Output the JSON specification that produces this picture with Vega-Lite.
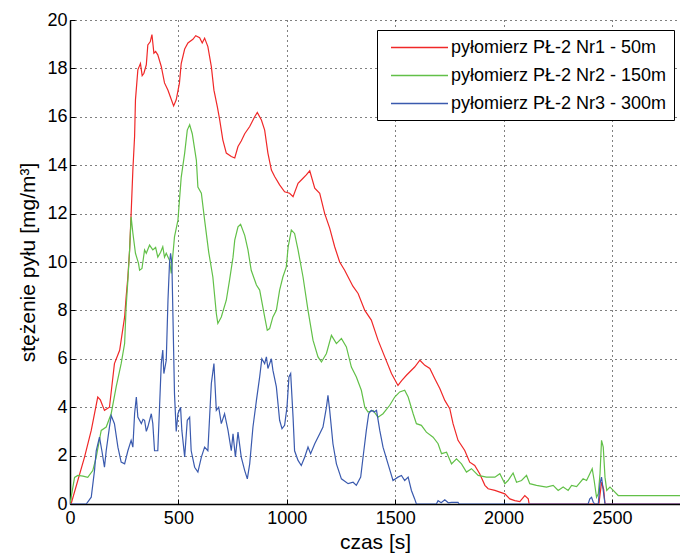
{
  "$schema": "https://vega.github.io/schema/vega-lite/v6.json",
  "width": 610,
  "height": 484,
  "autosize": {"type": "none"},
  "padding": {"left": 70, "top": 20, "right": 0, "bottom": 55},
  "background": "white",
  "config": {
    "view": {"stroke": null},
    "axis": {
      "gridColor": "#000000",
      "gridDash": [1, 4],
      "gridOpacity": 1,
      "gridWidth": 1,
      "domainColor": "#000000",
      "domainWidth": 1.5,
      "tickColor": "#000000",
      "tickSize": -5,
      "tickWidth": 1,
      "labelColor": "#000000",
      "labelFont": "Liberation Sans",
      "labelFontSize": 18,
      "titleColor": "#000000",
      "titleFont": "Liberation Sans",
      "titleFontSize": 21,
      "titleFontWeight": "normal"
    }
  },
  "data": {"values": []},
  "datasets": {
    "pts": [
      {"s":"pyłomierz PŁ-2 Nr1 - 50m","t":0,"v":0},{"s":"pyłomierz PŁ-2 Nr1 - 50m","t":5,"v":0},{"s":"pyłomierz PŁ-2 Nr1 - 50m","t":67,"v":1.94},{"s":"pyłomierz PŁ-2 Nr1 - 50m","t":98,"v":3.04},{"s":"pyłomierz PŁ-2 Nr1 - 50m","t":128,"v":4.42},{"s":"pyłomierz PŁ-2 Nr1 - 50m","t":140,"v":4.3},{"s":"pyłomierz PŁ-2 Nr1 - 50m","t":159,"v":3.87},{"s":"pyłomierz PŁ-2 Nr1 - 50m","t":182,"v":4.0},{"s":"pyłomierz PŁ-2 Nr1 - 50m","t":205,"v":5.8},{"s":"pyłomierz PŁ-2 Nr1 - 50m","t":229,"v":6.35},{"s":"pyłomierz PŁ-2 Nr1 - 50m","t":252,"v":7.73},{"s":"pyłomierz PŁ-2 Nr1 - 50m","t":259,"v":8.56},{"s":"pyłomierz PŁ-2 Nr1 - 50m","t":267,"v":9.38},{"s":"pyłomierz PŁ-2 Nr1 - 50m","t":275,"v":10.5},{"s":"pyłomierz PŁ-2 Nr1 - 50m","t":282,"v":12.0},{"s":"pyłomierz PŁ-2 Nr1 - 50m","t":290,"v":13.8},{"s":"pyłomierz PŁ-2 Nr1 - 50m","t":298,"v":15.2},{"s":"pyłomierz PŁ-2 Nr1 - 50m","t":302,"v":16.7},{"s":"pyłomierz PŁ-2 Nr1 - 50m","t":313,"v":17.94},{"s":"pyłomierz PŁ-2 Nr1 - 50m","t":325,"v":18.2},{"s":"pyłomierz PŁ-2 Nr1 - 50m","t":333,"v":17.7},{"s":"pyłomierz PŁ-2 Nr1 - 50m","t":341,"v":17.8},{"s":"pyłomierz PŁ-2 Nr1 - 50m","t":352,"v":18.15},{"s":"pyłomierz PŁ-2 Nr1 - 50m","t":359,"v":18.97},{"s":"pyłomierz PŁ-2 Nr1 - 50m","t":370,"v":19.1},{"s":"pyłomierz PŁ-2 Nr1 - 50m","t":378,"v":19.4},{"s":"pyłomierz PŁ-2 Nr1 - 50m","t":387,"v":18.63},{"s":"pyłomierz PŁ-2 Nr1 - 50m","t":395,"v":18.7},{"s":"pyłomierz PŁ-2 Nr1 - 50m","t":405,"v":18.56},{"s":"pyłomierz PŁ-2 Nr1 - 50m","t":421,"v":18.08},{"s":"pyłomierz PŁ-2 Nr1 - 50m","t":436,"v":17.4},{"s":"pyłomierz PŁ-2 Nr1 - 50m","t":452,"v":17.1},{"s":"pyłomierz PŁ-2 Nr1 - 50m","t":464,"v":16.8},{"s":"pyłomierz PŁ-2 Nr1 - 50m","t":478,"v":16.45},{"s":"pyłomierz PŁ-2 Nr1 - 50m","t":490,"v":16.7},{"s":"pyłomierz PŁ-2 Nr1 - 50m","t":505,"v":17.4},{"s":"pyłomierz PŁ-2 Nr1 - 50m","t":513,"v":18.2},{"s":"pyłomierz PŁ-2 Nr1 - 50m","t":529,"v":18.8},{"s":"pyłomierz PŁ-2 Nr1 - 50m","t":544,"v":19.05},{"s":"pyłomierz PŁ-2 Nr1 - 50m","t":567,"v":19.2},{"s":"pyłomierz PŁ-2 Nr1 - 50m","t":580,"v":19.35},{"s":"pyłomierz PŁ-2 Nr1 - 50m","t":598,"v":19.27},{"s":"pyłomierz PŁ-2 Nr1 - 50m","t":610,"v":19.05},{"s":"pyłomierz PŁ-2 Nr1 - 50m","t":621,"v":19.25},{"s":"pyłomierz PŁ-2 Nr1 - 50m","t":636,"v":18.9},{"s":"pyłomierz PŁ-2 Nr1 - 50m","t":652,"v":18.07},{"s":"pyłomierz PŁ-2 Nr1 - 50m","t":664,"v":17.1},{"s":"pyłomierz PŁ-2 Nr1 - 50m","t":680,"v":16.4},{"s":"pyłomierz PŁ-2 Nr1 - 50m","t":690,"v":15.9},{"s":"pyłomierz PŁ-2 Nr1 - 50m","t":705,"v":15.05},{"s":"pyłomierz PŁ-2 Nr1 - 50m","t":721,"v":14.5},{"s":"pyłomierz PŁ-2 Nr1 - 50m","t":744,"v":14.36},{"s":"pyłomierz PŁ-2 Nr1 - 50m","t":760,"v":14.3},{"s":"pyłomierz PŁ-2 Nr1 - 50m","t":775,"v":14.77},{"s":"pyłomierz PŁ-2 Nr1 - 50m","t":790,"v":15.0},{"s":"pyłomierz PŁ-2 Nr1 - 50m","t":806,"v":15.3},{"s":"pyłomierz PŁ-2 Nr1 - 50m","t":829,"v":15.6},{"s":"pyłomierz PŁ-2 Nr1 - 50m","t":852,"v":16.0},{"s":"pyłomierz PŁ-2 Nr1 - 50m","t":864,"v":16.18},{"s":"pyłomierz PŁ-2 Nr1 - 50m","t":883,"v":15.87},{"s":"pyłomierz PŁ-2 Nr1 - 50m","t":898,"v":15.45},{"s":"pyłomierz PŁ-2 Nr1 - 50m","t":913,"v":14.5},{"s":"pyłomierz PŁ-2 Nr1 - 50m","t":929,"v":13.8},{"s":"pyłomierz PŁ-2 Nr1 - 50m","t":944,"v":13.53},{"s":"pyłomierz PŁ-2 Nr1 - 50m","t":967,"v":13.19},{"s":"pyłomierz PŁ-2 Nr1 - 50m","t":990,"v":12.9},{"s":"pyłomierz PŁ-2 Nr1 - 50m","t":1013,"v":12.84},{"s":"pyłomierz PŁ-2 Nr1 - 50m","t":1029,"v":12.7},{"s":"pyłomierz PŁ-2 Nr1 - 50m","t":1052,"v":13.25},{"s":"pyłomierz PŁ-2 Nr1 - 50m","t":1075,"v":13.46},{"s":"pyłomierz PŁ-2 Nr1 - 50m","t":1090,"v":13.6},{"s":"pyłomierz PŁ-2 Nr1 - 50m","t":1106,"v":13.77},{"s":"pyłomierz PŁ-2 Nr1 - 50m","t":1129,"v":13.05},{"s":"pyłomierz PŁ-2 Nr1 - 50m","t":1152,"v":12.84},{"s":"pyłomierz PŁ-2 Nr1 - 50m","t":1175,"v":12.0},{"s":"pyłomierz PŁ-2 Nr1 - 50m","t":1198,"v":11.4},{"s":"pyłomierz PŁ-2 Nr1 - 50m","t":1221,"v":10.63},{"s":"pyłomierz PŁ-2 Nr1 - 50m","t":1244,"v":10.0},{"s":"pyłomierz PŁ-2 Nr1 - 50m","t":1267,"v":9.66},{"s":"pyłomierz PŁ-2 Nr1 - 50m","t":1283,"v":9.38},{"s":"pyłomierz PŁ-2 Nr1 - 50m","t":1305,"v":9.0},{"s":"pyłomierz PŁ-2 Nr1 - 50m","t":1329,"v":8.7},{"s":"pyłomierz PŁ-2 Nr1 - 50m","t":1360,"v":8.0},{"s":"pyłomierz PŁ-2 Nr1 - 50m","t":1390,"v":7.6},{"s":"pyłomierz PŁ-2 Nr1 - 50m","t":1421,"v":6.77},{"s":"pyłomierz PŁ-2 Nr1 - 50m","t":1452,"v":6.08},{"s":"pyłomierz PŁ-2 Nr1 - 50m","t":1483,"v":5.39},{"s":"pyłomierz PŁ-2 Nr1 - 50m","t":1513,"v":4.9},{"s":"pyłomierz PŁ-2 Nr1 - 50m","t":1530,"v":5.1},{"s":"pyłomierz PŁ-2 Nr1 - 50m","t":1552,"v":5.32},{"s":"pyłomierz PŁ-2 Nr1 - 50m","t":1590,"v":5.66},{"s":"pyłomierz PŁ-2 Nr1 - 50m","t":1614,"v":5.94},{"s":"pyłomierz PŁ-2 Nr1 - 50m","t":1637,"v":5.73},{"s":"pyłomierz PŁ-2 Nr1 - 50m","t":1660,"v":5.6},{"s":"pyłomierz PŁ-2 Nr1 - 50m","t":1683,"v":5.18},{"s":"pyłomierz PŁ-2 Nr1 - 50m","t":1706,"v":4.77},{"s":"pyłomierz PŁ-2 Nr1 - 50m","t":1729,"v":4.28},{"s":"pyłomierz PŁ-2 Nr1 - 50m","t":1752,"v":3.94},{"s":"pyłomierz PŁ-2 Nr1 - 50m","t":1767,"v":3.32},{"s":"pyłomierz PŁ-2 Nr1 - 50m","t":1790,"v":2.63},{"s":"pyłomierz PŁ-2 Nr1 - 50m","t":1821,"v":2.21},{"s":"pyłomierz PŁ-2 Nr1 - 50m","t":1844,"v":1.73},{"s":"pyłomierz PŁ-2 Nr1 - 50m","t":1867,"v":1.59},{"s":"pyłomierz PŁ-2 Nr1 - 50m","t":1890,"v":1.25},{"s":"pyłomierz PŁ-2 Nr1 - 50m","t":1914,"v":0.77},{"s":"pyłomierz PŁ-2 Nr1 - 50m","t":1929,"v":0.63},{"s":"pyłomierz PŁ-2 Nr1 - 50m","t":1960,"v":0.56},{"s":"pyłomierz PŁ-2 Nr1 - 50m","t":1983,"v":0.49},{"s":"pyłomierz PŁ-2 Nr1 - 50m","t":2006,"v":0.42},{"s":"pyłomierz PŁ-2 Nr1 - 50m","t":2029,"v":0.21},{"s":"pyłomierz PŁ-2 Nr1 - 50m","t":2052,"v":0.14},{"s":"pyłomierz PŁ-2 Nr1 - 50m","t":2075,"v":0.1},{"s":"pyłomierz PŁ-2 Nr1 - 50m","t":2098,"v":0.35},{"s":"pyłomierz PŁ-2 Nr1 - 50m","t":2114,"v":0.21},{"s":"pyłomierz PŁ-2 Nr1 - 50m","t":2118,"v":0},{"s":"pyłomierz PŁ-2 Nr1 - 50m","t":2440,"v":0},{"s":"pyłomierz PŁ-2 Nr1 - 50m","t":2452,"v":0.9},{"s":"pyłomierz PŁ-2 Nr1 - 50m","t":2462,"v":0.6},{"s":"pyłomierz PŁ-2 Nr1 - 50m","t":2468,"v":0},{"s":"pyłomierz PŁ-2 Nr1 - 50m","t":2814,"v":0},

      {"s":"pyłomierz PŁ-2 Nr2 - 150m","t":0,"v":0},{"s":"pyłomierz PŁ-2 Nr2 - 150m","t":21,"v":1.1},{"s":"pyłomierz PŁ-2 Nr2 - 150m","t":36,"v":1.18},{"s":"pyłomierz PŁ-2 Nr2 - 150m","t":60,"v":1.15},{"s":"pyłomierz PŁ-2 Nr2 - 150m","t":82,"v":1.1},{"s":"pyłomierz PŁ-2 Nr2 - 150m","t":105,"v":1.38},{"s":"pyłomierz PŁ-2 Nr2 - 150m","t":121,"v":1.94},{"s":"pyłomierz PŁ-2 Nr2 - 150m","t":144,"v":3.04},{"s":"pyłomierz PŁ-2 Nr2 - 150m","t":167,"v":3.18},{"s":"pyłomierz PŁ-2 Nr2 - 150m","t":190,"v":3.73},{"s":"pyłomierz PŁ-2 Nr2 - 150m","t":213,"v":4.84},{"s":"pyłomierz PŁ-2 Nr2 - 150m","t":236,"v":5.8},{"s":"pyłomierz PŁ-2 Nr2 - 150m","t":252,"v":6.63},{"s":"pyłomierz PŁ-2 Nr2 - 150m","t":259,"v":8.15},{"s":"pyłomierz PŁ-2 Nr2 - 150m","t":267,"v":9.25},{"s":"pyłomierz PŁ-2 Nr2 - 150m","t":275,"v":10.5},{"s":"pyłomierz PŁ-2 Nr2 - 150m","t":282,"v":11.87},{"s":"pyłomierz PŁ-2 Nr2 - 150m","t":290,"v":11.2},{"s":"pyłomierz PŁ-2 Nr2 - 150m","t":302,"v":10.36},{"s":"pyłomierz PŁ-2 Nr2 - 150m","t":316,"v":9.94},{"s":"pyłomierz PŁ-2 Nr2 - 150m","t":321,"v":9.66},{"s":"pyłomierz PŁ-2 Nr2 - 150m","t":332,"v":9.73},{"s":"pyłomierz PŁ-2 Nr2 - 150m","t":344,"v":10.5},{"s":"pyłomierz PŁ-2 Nr2 - 150m","t":352,"v":10.36},{"s":"pyłomierz PŁ-2 Nr2 - 150m","t":367,"v":10.7},{"s":"pyłomierz PŁ-2 Nr2 - 150m","t":382,"v":10.5},{"s":"pyłomierz PŁ-2 Nr2 - 150m","t":395,"v":10.6},{"s":"pyłomierz PŁ-2 Nr2 - 150m","t":405,"v":10.2},{"s":"pyłomierz PŁ-2 Nr2 - 150m","t":418,"v":10.4},{"s":"pyłomierz PŁ-2 Nr2 - 150m","t":428,"v":10.63},{"s":"pyłomierz PŁ-2 Nr2 - 150m","t":436,"v":10.2},{"s":"pyłomierz PŁ-2 Nr2 - 150m","t":444,"v":10.36},{"s":"pyłomierz PŁ-2 Nr2 - 150m","t":459,"v":10.07},{"s":"pyłomierz PŁ-2 Nr2 - 150m","t":467,"v":9.53},{"s":"pyłomierz PŁ-2 Nr2 - 150m","t":482,"v":11.04},{"s":"pyłomierz PŁ-2 Nr2 - 150m","t":498,"v":11.73},{"s":"pyłomierz PŁ-2 Nr2 - 150m","t":513,"v":13.5},{"s":"pyłomierz PŁ-2 Nr2 - 150m","t":529,"v":14.5},{"s":"pyłomierz PŁ-2 Nr2 - 150m","t":541,"v":15.45},{"s":"pyłomierz PŁ-2 Nr2 - 150m","t":552,"v":15.67},{"s":"pyłomierz PŁ-2 Nr2 - 150m","t":564,"v":15.3},{"s":"pyłomierz PŁ-2 Nr2 - 150m","t":583,"v":14.2},{"s":"pyłomierz PŁ-2 Nr2 - 150m","t":590,"v":13.1},{"s":"pyłomierz PŁ-2 Nr2 - 150m","t":606,"v":12.84},{"s":"pyłomierz PŁ-2 Nr2 - 150m","t":621,"v":11.73},{"s":"pyłomierz PŁ-2 Nr2 - 150m","t":640,"v":10.4},{"s":"pyłomierz PŁ-2 Nr2 - 150m","t":659,"v":9.38},{"s":"pyłomierz PŁ-2 Nr2 - 150m","t":675,"v":7.87},{"s":"pyłomierz PŁ-2 Nr2 - 150m","t":682,"v":7.46},{"s":"pyłomierz PŁ-2 Nr2 - 150m","t":698,"v":7.73},{"s":"pyłomierz PŁ-2 Nr2 - 150m","t":721,"v":8.42},{"s":"pyłomierz PŁ-2 Nr2 - 150m","t":736,"v":9.25},{"s":"pyłomierz PŁ-2 Nr2 - 150m","t":752,"v":10.2},{"s":"pyłomierz PŁ-2 Nr2 - 150m","t":760,"v":10.9},{"s":"pyłomierz PŁ-2 Nr2 - 150m","t":775,"v":11.45},{"s":"pyłomierz PŁ-2 Nr2 - 150m","t":787,"v":11.56},{"s":"pyłomierz PŁ-2 Nr2 - 150m","t":806,"v":11.1},{"s":"pyłomierz PŁ-2 Nr2 - 150m","t":821,"v":10.5},{"s":"pyłomierz PŁ-2 Nr2 - 150m","t":836,"v":9.66},{"s":"pyłomierz PŁ-2 Nr2 - 150m","t":860,"v":9.05},{"s":"pyłomierz PŁ-2 Nr2 - 150m","t":875,"v":8.84},{"s":"pyłomierz PŁ-2 Nr2 - 150m","t":898,"v":7.73},{"s":"pyłomierz PŁ-2 Nr2 - 150m","t":910,"v":7.18},{"s":"pyłomierz PŁ-2 Nr2 - 150m","t":921,"v":7.25},{"s":"pyłomierz PŁ-2 Nr2 - 150m","t":936,"v":7.73},{"s":"pyłomierz PŁ-2 Nr2 - 150m","t":952,"v":8.0},{"s":"pyłomierz PŁ-2 Nr2 - 150m","t":967,"v":8.84},{"s":"pyłomierz PŁ-2 Nr2 - 150m","t":982,"v":9.38},{"s":"pyłomierz PŁ-2 Nr2 - 150m","t":998,"v":9.8},{"s":"pyłomierz PŁ-2 Nr2 - 150m","t":1006,"v":10.6},{"s":"pyłomierz PŁ-2 Nr2 - 150m","t":1021,"v":11.32},{"s":"pyłomierz PŁ-2 Nr2 - 150m","t":1036,"v":11.18},{"s":"pyłomierz PŁ-2 Nr2 - 150m","t":1052,"v":10.5},{"s":"pyłomierz PŁ-2 Nr2 - 150m","t":1075,"v":9.38},{"s":"pyłomierz PŁ-2 Nr2 - 150m","t":1098,"v":8.0},{"s":"pyłomierz PŁ-2 Nr2 - 150m","t":1121,"v":6.77},{"s":"pyłomierz PŁ-2 Nr2 - 150m","t":1144,"v":6.08},{"s":"pyłomierz PŁ-2 Nr2 - 150m","t":1160,"v":5.87},{"s":"pyłomierz PŁ-2 Nr2 - 150m","t":1183,"v":6.22},{"s":"pyłomierz PŁ-2 Nr2 - 150m","t":1206,"v":6.97},{"s":"pyłomierz PŁ-2 Nr2 - 150m","t":1229,"v":6.63},{"s":"pyłomierz PŁ-2 Nr2 - 150m","t":1252,"v":6.84},{"s":"pyłomierz PŁ-2 Nr2 - 150m","t":1275,"v":6.49},{"s":"pyłomierz PŁ-2 Nr2 - 150m","t":1298,"v":5.66},{"s":"pyłomierz PŁ-2 Nr2 - 150m","t":1321,"v":5.25},{"s":"pyłomierz PŁ-2 Nr2 - 150m","t":1344,"v":4.7},{"s":"pyłomierz PŁ-2 Nr2 - 150m","t":1360,"v":4.0},{"s":"pyłomierz PŁ-2 Nr2 - 150m","t":1375,"v":3.8},{"s":"pyłomierz PŁ-2 Nr2 - 150m","t":1398,"v":3.87},{"s":"pyłomierz PŁ-2 Nr2 - 150m","t":1421,"v":3.59},{"s":"pyłomierz PŁ-2 Nr2 - 150m","t":1444,"v":3.73},{"s":"pyłomierz PŁ-2 Nr2 - 150m","t":1475,"v":4.08},{"s":"pyłomierz PŁ-2 Nr2 - 150m","t":1498,"v":4.42},{"s":"pyłomierz PŁ-2 Nr2 - 150m","t":1521,"v":4.63},{"s":"pyłomierz PŁ-2 Nr2 - 150m","t":1544,"v":4.7},{"s":"pyłomierz PŁ-2 Nr2 - 150m","t":1560,"v":4.42},{"s":"pyłomierz PŁ-2 Nr2 - 150m","t":1583,"v":3.73},{"s":"pyłomierz PŁ-2 Nr2 - 150m","t":1598,"v":3.32},{"s":"pyłomierz PŁ-2 Nr2 - 150m","t":1621,"v":3.25},{"s":"pyłomierz PŁ-2 Nr2 - 150m","t":1644,"v":2.97},{"s":"pyłomierz PŁ-2 Nr2 - 150m","t":1675,"v":2.76},{"s":"pyłomierz PŁ-2 Nr2 - 150m","t":1698,"v":2.49},{"s":"pyłomierz PŁ-2 Nr2 - 150m","t":1714,"v":2.08},{"s":"pyłomierz PŁ-2 Nr2 - 150m","t":1737,"v":2.14},{"s":"pyłomierz PŁ-2 Nr2 - 150m","t":1760,"v":1.66},{"s":"pyłomierz PŁ-2 Nr2 - 150m","t":1783,"v":1.87},{"s":"pyłomierz PŁ-2 Nr2 - 150m","t":1806,"v":1.66},{"s":"pyłomierz PŁ-2 Nr2 - 150m","t":1829,"v":1.32},{"s":"pyłomierz PŁ-2 Nr2 - 150m","t":1852,"v":1.46},{"s":"pyłomierz PŁ-2 Nr2 - 150m","t":1883,"v":1.18},{"s":"pyłomierz PŁ-2 Nr2 - 150m","t":1921,"v":1.11},{"s":"pyłomierz PŁ-2 Nr2 - 150m","t":1960,"v":1.11},{"s":"pyłomierz PŁ-2 Nr2 - 150m","t":1983,"v":1.25},{"s":"pyłomierz PŁ-2 Nr2 - 150m","t":2006,"v":0.84},{"s":"pyłomierz PŁ-2 Nr2 - 150m","t":2021,"v":0.97},{"s":"pyłomierz PŁ-2 Nr2 - 150m","t":2044,"v":1.28},{"s":"pyłomierz PŁ-2 Nr2 - 150m","t":2060,"v":0.9},{"s":"pyłomierz PŁ-2 Nr2 - 150m","t":2083,"v":0.97},{"s":"pyłomierz PŁ-2 Nr2 - 150m","t":2106,"v":1.18},{"s":"pyłomierz PŁ-2 Nr2 - 150m","t":2121,"v":0.84},{"s":"pyłomierz PŁ-2 Nr2 - 150m","t":2152,"v":0.77},{"s":"pyłomierz PŁ-2 Nr2 - 150m","t":2198,"v":0.7},{"s":"pyłomierz PŁ-2 Nr2 - 150m","t":2229,"v":0.77},{"s":"pyłomierz PŁ-2 Nr2 - 150m","t":2252,"v":0.56},{"s":"pyłomierz PŁ-2 Nr2 - 150m","t":2275,"v":0.7},{"s":"pyłomierz PŁ-2 Nr2 - 150m","t":2298,"v":0.56},{"s":"pyłomierz PŁ-2 Nr2 - 150m","t":2314,"v":0.77},{"s":"pyłomierz PŁ-2 Nr2 - 150m","t":2337,"v":0.72},{"s":"pyłomierz PŁ-2 Nr2 - 150m","t":2367,"v":1.04},{"s":"pyłomierz PŁ-2 Nr2 - 150m","t":2383,"v":0.97},{"s":"pyłomierz PŁ-2 Nr2 - 150m","t":2398,"v":1.25},{"s":"pyłomierz PŁ-2 Nr2 - 150m","t":2409,"v":1.46},{"s":"pyłomierz PŁ-2 Nr2 - 150m","t":2418,"v":0.97},{"s":"pyłomierz PŁ-2 Nr2 - 150m","t":2429,"v":0.28},{"s":"pyłomierz PŁ-2 Nr2 - 150m","t":2437,"v":0.42},{"s":"pyłomierz PŁ-2 Nr2 - 150m","t":2445,"v":1.25},{"s":"pyłomierz PŁ-2 Nr2 - 150m","t":2452,"v":2.63},{"s":"pyłomierz PŁ-2 Nr2 - 150m","t":2460,"v":2.35},{"s":"pyłomierz PŁ-2 Nr2 - 150m","t":2468,"v":1.11},{"s":"pyłomierz PŁ-2 Nr2 - 150m","t":2476,"v":0.56},{"s":"pyłomierz PŁ-2 Nr2 - 150m","t":2491,"v":0.7},{"s":"pyłomierz PŁ-2 Nr2 - 150m","t":2506,"v":0.56},{"s":"pyłomierz PŁ-2 Nr2 - 150m","t":2529,"v":0.35},{"s":"pyłomierz PŁ-2 Nr2 - 150m","t":2814,"v":0.35},

      {"s":"pyłomierz PŁ-2 Nr3 - 300m","t":0,"v":0},{"s":"pyłomierz PŁ-2 Nr3 - 300m","t":75,"v":0},{"s":"pyłomierz PŁ-2 Nr3 - 300m","t":98,"v":0.28},{"s":"pyłomierz PŁ-2 Nr3 - 300m","t":113,"v":1.38},{"s":"pyłomierz PŁ-2 Nr3 - 300m","t":121,"v":2.2},{"s":"pyłomierz PŁ-2 Nr3 - 300m","t":136,"v":2.76},{"s":"pyłomierz PŁ-2 Nr3 - 300m","t":147,"v":2.2},{"s":"pyłomierz PŁ-2 Nr3 - 300m","t":159,"v":1.52},{"s":"pyłomierz PŁ-2 Nr3 - 300m","t":167,"v":2.2},{"s":"pyłomierz PŁ-2 Nr3 - 300m","t":182,"v":3.18},{"s":"pyłomierz PŁ-2 Nr3 - 300m","t":190,"v":3.66},{"s":"pyłomierz PŁ-2 Nr3 - 300m","t":205,"v":3.32},{"s":"pyłomierz PŁ-2 Nr3 - 300m","t":221,"v":2.35},{"s":"pyłomierz PŁ-2 Nr3 - 300m","t":236,"v":1.73},{"s":"pyłomierz PŁ-2 Nr3 - 300m","t":252,"v":1.66},{"s":"pyłomierz PŁ-2 Nr3 - 300m","t":267,"v":2.2},{"s":"pyłomierz PŁ-2 Nr3 - 300m","t":282,"v":2.63},{"s":"pyłomierz PŁ-2 Nr3 - 300m","t":290,"v":2.35},{"s":"pyłomierz PŁ-2 Nr3 - 300m","t":298,"v":3.73},{"s":"pyłomierz PŁ-2 Nr3 - 300m","t":306,"v":4.42},{"s":"pyłomierz PŁ-2 Nr3 - 300m","t":313,"v":3.59},{"s":"pyłomierz PŁ-2 Nr3 - 300m","t":329,"v":3.32},{"s":"pyłomierz PŁ-2 Nr3 - 300m","t":337,"v":3.5},{"s":"pyłomierz PŁ-2 Nr3 - 300m","t":344,"v":3.46},{"s":"pyłomierz PŁ-2 Nr3 - 300m","t":352,"v":3.0},{"s":"pyłomierz PŁ-2 Nr3 - 300m","t":359,"v":3.18},{"s":"pyłomierz PŁ-2 Nr3 - 300m","t":375,"v":3.73},{"s":"pyłomierz PŁ-2 Nr3 - 300m","t":382,"v":3.32},{"s":"pyłomierz PŁ-2 Nr3 - 300m","t":390,"v":2.2},{"s":"pyłomierz PŁ-2 Nr3 - 300m","t":405,"v":2.2},{"s":"pyłomierz PŁ-2 Nr3 - 300m","t":413,"v":4.0},{"s":"pyłomierz PŁ-2 Nr3 - 300m","t":421,"v":5.8},{"s":"pyłomierz PŁ-2 Nr3 - 300m","t":428,"v":6.36},{"s":"pyłomierz PŁ-2 Nr3 - 300m","t":433,"v":5.39},{"s":"pyłomierz PŁ-2 Nr3 - 300m","t":444,"v":5.94},{"s":"pyłomierz PŁ-2 Nr3 - 300m","t":452,"v":8.42},{"s":"pyłomierz PŁ-2 Nr3 - 300m","t":459,"v":9.94},{"s":"pyłomierz PŁ-2 Nr3 - 300m","t":464,"v":10.36},{"s":"pyłomierz PŁ-2 Nr3 - 300m","t":470,"v":9.94},{"s":"pyłomierz PŁ-2 Nr3 - 300m","t":475,"v":7.73},{"s":"pyłomierz PŁ-2 Nr3 - 300m","t":482,"v":4.56},{"s":"pyłomierz PŁ-2 Nr3 - 300m","t":490,"v":3.0},{"s":"pyłomierz PŁ-2 Nr3 - 300m","t":498,"v":3.73},{"s":"pyłomierz PŁ-2 Nr3 - 300m","t":510,"v":4.0},{"s":"pyłomierz PŁ-2 Nr3 - 300m","t":516,"v":3.04},{"s":"pyłomierz PŁ-2 Nr3 - 300m","t":529,"v":1.94},{"s":"pyłomierz PŁ-2 Nr3 - 300m","t":541,"v":3.46},{"s":"pyłomierz PŁ-2 Nr3 - 300m","t":552,"v":3.59},{"s":"pyłomierz PŁ-2 Nr3 - 300m","t":559,"v":2.2},{"s":"pyłomierz PŁ-2 Nr3 - 300m","t":575,"v":1.52},{"s":"pyłomierz PŁ-2 Nr3 - 300m","t":590,"v":1.32},{"s":"pyłomierz PŁ-2 Nr3 - 300m","t":606,"v":1.94},{"s":"pyłomierz PŁ-2 Nr3 - 300m","t":621,"v":2.35},{"s":"pyłomierz PŁ-2 Nr3 - 300m","t":636,"v":2.2},{"s":"pyłomierz PŁ-2 Nr3 - 300m","t":652,"v":4.98},{"s":"pyłomierz PŁ-2 Nr3 - 300m","t":664,"v":5.8},{"s":"pyłomierz PŁ-2 Nr3 - 300m","t":675,"v":3.87},{"s":"pyłomierz PŁ-2 Nr3 - 300m","t":686,"v":4.0},{"s":"pyłomierz PŁ-2 Nr3 - 300m","t":698,"v":3.32},{"s":"pyłomierz PŁ-2 Nr3 - 300m","t":713,"v":3.73},{"s":"pyłomierz PŁ-2 Nr3 - 300m","t":729,"v":3.04},{"s":"pyłomierz PŁ-2 Nr3 - 300m","t":744,"v":2.2},{"s":"pyłomierz PŁ-2 Nr3 - 300m","t":752,"v":2.9},{"s":"pyłomierz PŁ-2 Nr3 - 300m","t":763,"v":1.94},{"s":"pyłomierz PŁ-2 Nr3 - 300m","t":775,"v":2.97},{"s":"pyłomierz PŁ-2 Nr3 - 300m","t":790,"v":1.94},{"s":"pyłomierz PŁ-2 Nr3 - 300m","t":806,"v":1.38},{"s":"pyłomierz PŁ-2 Nr3 - 300m","t":818,"v":1.04},{"s":"pyłomierz PŁ-2 Nr3 - 300m","t":829,"v":1.66},{"s":"pyłomierz PŁ-2 Nr3 - 300m","t":844,"v":3.18},{"s":"pyłomierz PŁ-2 Nr3 - 300m","t":860,"v":4.28},{"s":"pyłomierz PŁ-2 Nr3 - 300m","t":875,"v":5.25},{"s":"pyłomierz PŁ-2 Nr3 - 300m","t":885,"v":6.0},{"s":"pyłomierz PŁ-2 Nr3 - 300m","t":898,"v":5.8},{"s":"pyłomierz PŁ-2 Nr3 - 300m","t":906,"v":6.08},{"s":"pyłomierz PŁ-2 Nr3 - 300m","t":913,"v":5.6},{"s":"pyłomierz PŁ-2 Nr3 - 300m","t":929,"v":6.0},{"s":"pyłomierz PŁ-2 Nr3 - 300m","t":936,"v":5.53},{"s":"pyłomierz PŁ-2 Nr3 - 300m","t":952,"v":4.84},{"s":"pyłomierz PŁ-2 Nr3 - 300m","t":967,"v":3.46},{"s":"pyłomierz PŁ-2 Nr3 - 300m","t":978,"v":3.11},{"s":"pyłomierz PŁ-2 Nr3 - 300m","t":990,"v":3.25},{"s":"pyłomierz PŁ-2 Nr3 - 300m","t":1001,"v":4.0},{"s":"pyłomierz PŁ-2 Nr3 - 300m","t":1010,"v":5.25},{"s":"pyłomierz PŁ-2 Nr3 - 300m","t":1018,"v":5.39},{"s":"pyłomierz PŁ-2 Nr3 - 300m","t":1029,"v":3.59},{"s":"pyłomierz PŁ-2 Nr3 - 300m","t":1036,"v":2.2},{"s":"pyłomierz PŁ-2 Nr3 - 300m","t":1052,"v":1.8},{"s":"pyłomierz PŁ-2 Nr3 - 300m","t":1067,"v":1.59},{"s":"pyłomierz PŁ-2 Nr3 - 300m","t":1083,"v":1.94},{"s":"pyłomierz PŁ-2 Nr3 - 300m","t":1098,"v":2.35},{"s":"pyłomierz PŁ-2 Nr3 - 300m","t":1110,"v":2.08},{"s":"pyłomierz PŁ-2 Nr3 - 300m","t":1129,"v":2.49},{"s":"pyłomierz PŁ-2 Nr3 - 300m","t":1152,"v":2.9},{"s":"pyłomierz PŁ-2 Nr3 - 300m","t":1167,"v":3.18},{"s":"pyłomierz PŁ-2 Nr3 - 300m","t":1183,"v":4.0},{"s":"pyłomierz PŁ-2 Nr3 - 300m","t":1190,"v":4.49},{"s":"pyłomierz PŁ-2 Nr3 - 300m","t":1198,"v":3.87},{"s":"pyłomierz PŁ-2 Nr3 - 300m","t":1213,"v":2.49},{"s":"pyłomierz PŁ-2 Nr3 - 300m","t":1229,"v":1.66},{"s":"pyłomierz PŁ-2 Nr3 - 300m","t":1252,"v":1.04},{"s":"pyłomierz PŁ-2 Nr3 - 300m","t":1283,"v":0.84},{"s":"pyłomierz PŁ-2 Nr3 - 300m","t":1306,"v":0.9},{"s":"pyłomierz PŁ-2 Nr3 - 300m","t":1321,"v":0.77},{"s":"pyłomierz PŁ-2 Nr3 - 300m","t":1341,"v":1.11},{"s":"pyłomierz PŁ-2 Nr3 - 300m","t":1352,"v":1.94},{"s":"pyłomierz PŁ-2 Nr3 - 300m","t":1367,"v":3.04},{"s":"pyłomierz PŁ-2 Nr3 - 300m","t":1378,"v":3.73},{"s":"pyłomierz PŁ-2 Nr3 - 300m","t":1390,"v":3.87},{"s":"pyłomierz PŁ-2 Nr3 - 300m","t":1403,"v":3.8},{"s":"pyłomierz PŁ-2 Nr3 - 300m","t":1414,"v":3.87},{"s":"pyłomierz PŁ-2 Nr3 - 300m","t":1429,"v":3.04},{"s":"pyłomierz PŁ-2 Nr3 - 300m","t":1444,"v":2.35},{"s":"pyłomierz PŁ-2 Nr3 - 300m","t":1467,"v":1.66},{"s":"pyłomierz PŁ-2 Nr3 - 300m","t":1490,"v":0.97},{"s":"pyłomierz PŁ-2 Nr3 - 300m","t":1513,"v":1.11},{"s":"pyłomierz PŁ-2 Nr3 - 300m","t":1529,"v":1.18},{"s":"pyłomierz PŁ-2 Nr3 - 300m","t":1544,"v":0.97},{"s":"pyłomierz PŁ-2 Nr3 - 300m","t":1560,"v":1.11},{"s":"pyłomierz PŁ-2 Nr3 - 300m","t":1575,"v":0.56},{"s":"pyłomierz PŁ-2 Nr3 - 300m","t":1590,"v":0.21},{"s":"pyłomierz PŁ-2 Nr3 - 300m","t":1598,"v":0},{"s":"pyłomierz PŁ-2 Nr3 - 300m","t":1690,"v":0},{"s":"pyłomierz PŁ-2 Nr3 - 300m","t":1698,"v":0.14},{"s":"pyłomierz PŁ-2 Nr3 - 300m","t":1712,"v":0.05},{"s":"pyłomierz PŁ-2 Nr3 - 300m","t":1729,"v":0.17},{"s":"pyłomierz PŁ-2 Nr3 - 300m","t":1745,"v":0.05},{"s":"pyłomierz PŁ-2 Nr3 - 300m","t":1760,"v":0.07},{"s":"pyłomierz PŁ-2 Nr3 - 300m","t":1790,"v":0.07},{"s":"pyłomierz PŁ-2 Nr3 - 300m","t":1795,"v":0},{"s":"pyłomierz PŁ-2 Nr3 - 300m","t":2390,"v":0},{"s":"pyłomierz PŁ-2 Nr3 - 300m","t":2398,"v":0.21},{"s":"pyłomierz PŁ-2 Nr3 - 300m","t":2406,"v":0.28},{"s":"pyłomierz PŁ-2 Nr3 - 300m","t":2414,"v":0.07},{"s":"pyłomierz PŁ-2 Nr3 - 300m","t":2421,"v":0},{"s":"pyłomierz PŁ-2 Nr3 - 300m","t":2437,"v":0},{"s":"pyłomierz PŁ-2 Nr3 - 300m","t":2445,"v":0.84},{"s":"pyłomierz PŁ-2 Nr3 - 300m","t":2452,"v":1.11},{"s":"pyłomierz PŁ-2 Nr3 - 300m","t":2460,"v":0.56},{"s":"pyłomierz PŁ-2 Nr3 - 300m","t":2468,"v":0},{"s":"pyłomierz PŁ-2 Nr3 - 300m","t":2814,"v":0}
    ]
  },
  "layer": [
    {
      "data": {"name": "pts"},
      "mark": {"type": "line", "strokeWidth": 1.2, "clip": true},
      "encoding": {
        "x": {
          "field": "t", "type": "quantitative",
          "scale": {"domain": [0, 2814], "nice": false, "zero": false},
          "axis": {"values": [0, 500, 1000, 1500, 2000, 2500], "format": "d", "title": "czas [s]", "labelPadding": 10, "titlePadding": 4, "labelFlush": false}
        },
        "y": {
          "field": "v", "type": "quantitative",
          "scale": {"domain": [0, 20], "nice": false},
          "axis": {"values": [0, 2, 4, 6, 8, 10, 12, 14, 16, 18, 20], "format": "d", "title": "stężenie pyłu [mg/m³]", "labelPadding": 8, "titlePadding": 8, "labelFlush": false}
        },
        "color": {
          "field": "s", "type": "nominal",
          "scale": {
            "domain": ["pyłomierz PŁ-2 Nr1 - 50m", "pyłomierz PŁ-2 Nr2 - 150m", "pyłomierz PŁ-2 Nr3 - 300m"],
            "range": ["#f02828", "#62c048", "#3a5aae"]
          },
          "legend": {
            "title": null,
            "orient": "none",
            "legendX": 307,
            "legendY": 10,
            "strokeColor": "#000000",
            "fillColor": "#ffffff",
            "padding": 7,
            "symbolType": "M-3,0H3",
            "symbolSize": 361,
            "symbolOffset": 25,
            "symbolStrokeWidth": 1.5,
            "labelFont": "Liberation Sans",
            "labelFontSize": 18,
            "labelColor": "#000000",
            "labelLimit": 400,
            "labelOffset": 21,
            "rowPadding": 8
          }
        }
      }
    }
  ]
}
